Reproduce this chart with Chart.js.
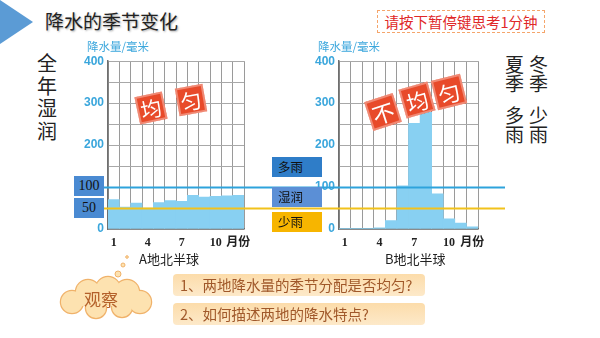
<!DOCTYPE html>
<html lang="zh-CN">
<head>
<meta charset="UTF-8">
<title>降水的季节变化</title>
<script src="https://cdn.jsdelivr.net/npm/chart.js"></script>
<style>
  body {
    margin: 0;
    width: 600px;
    height: 338px;
    background: #fff;
    position: relative;
    overflow: hidden;
    font-family: 'Noto Sans CJK SC', sans-serif;
  }
  .abs { position: absolute; }
  canvas { position: absolute; }
  .tri {
    left: 0; top: 0; width: 0; height: 0;
    border-left: 33px solid #5b9bd5;
    border-top: 22px solid transparent;
    border-bottom: 22px solid transparent;
  }
  .title {
    left: 45px; top: 7px;
    font-size: 19px; color: #222;
    text-shadow: 1px 1px 2px rgba(0,0,0,.35);
  }
  .pause {
    left: 377px; top: 10px; width: 166px; height: 21px;
    border: 1px dashed #f5a56b;
    color: #e02828; font-size: 14.5px; line-height: 21px; text-align: center;
  }
  .unit { font-size: 11.5px; color: #3aa6dc; }
  .big { font-size: 20px; color: #222; line-height: 22.5px; }
  .side { font-size: 19px; color: #222; line-height: 19px; }
  .box {
    width: 50px; height: 20px; line-height: 20px;
    font-size: 12.5px; color: #111; padding-left: 6px; box-sizing: border-box;
  }
  .val {
    left: 74px; width: 30px; height: 20px; line-height: 20px;
    background: #4a8ad2; color: #111; text-align: center;
    font-family: 'Liberation Serif', serif; font-size: 14px;
  }
  .stamp {
    background: #e84a2a; color: #fff; text-align: center;
    box-shadow: inset 0 0 0 2px rgba(255,255,255,.35);
  }
  .place { font-size: 13px; color: #222; }
  .q {
    left: 173px; width: 252px; height: 22px; line-height: 22px;
    border-radius: 4px; padding-left: 7px; box-sizing: border-box;
    background: linear-gradient(to bottom, #fcdcaa, #fde9c9);
    color: #a0582a; font-size: 14.5px;
  }
</style>
</head>
<body>

<div class="abs tri"></div>
<div class="abs title">降水的季节变化</div>
<div class="abs pause">请按下暂停键思考1分钟</div>

<canvas id="chartA" width="226" height="200" style="left:74px; top:50px;"></canvas>
<canvas id="chartB" width="205" height="200" style="left:300px; top:50px;"></canvas>

<div class="abs unit" style="left:87px; top:38px;">降水量/毫米</div>
<div class="abs unit" style="left:318px; top:38px;">降水量/毫米</div>

<div class="abs big" style="left:37px; top:52px;">全<br>年<br>湿<br>润</div>
<div class="abs side" style="left:505px; top:54px;">夏<br>季</div>
<div class="abs side" style="left:505px; top:105px;">多<br>雨</div>
<div class="abs side" style="left:529px; top:54px;">冬<br>季</div>
<div class="abs side" style="left:529px; top:105px;">少<br>雨</div>

<div class="abs val" style="top:176px;">100</div>
<div class="abs val" style="top:198px;">50</div>

<div class="abs box" style="left:272px; top:157px; background:#2f7dc8;">多雨</div>
<div class="abs box" style="left:272px; top:187px; background:#5b8fd6;">湿润</div>
<div class="abs box" style="left:272px; top:212px; background:#f7b500;">少雨</div>

<div class="abs stamp" style="left:137px; top:94px; width:28px; height:28px; line-height:28px; font-size:21px; transform:rotate(-12deg);">均</div>
<div class="abs stamp" style="left:177px; top:86px; width:28px; height:28px; line-height:28px; font-size:21px; transform:rotate(-10deg);">匀</div>
<div class="abs stamp" style="left:368px; top:97px; width:30px; height:30px; line-height:30px; font-size:22px; transform:rotate(-18deg);">不</div>
<div class="abs stamp" style="left:402px; top:85px; width:30px; height:30px; line-height:30px; font-size:22px; transform:rotate(-16deg);">均</div>
<div class="abs stamp" style="left:434px; top:77px; width:30px; height:30px; line-height:30px; font-size:22px; transform:rotate(-14deg);">匀</div>

<div class="abs place" style="left:139px; top:249px;">A地北半球</div>
<div class="abs place" style="left:385px; top:249px;">B地北半球</div>

<svg class="abs" style="left:0; top:0;" width="600" height="338">
  <g stroke="#f0b26a" stroke-width="2.5" fill="#fde2b0">
    <circle cx="72" cy="302" r="11"/>
    <circle cx="88" cy="292" r="12"/>
    <circle cx="108" cy="289" r="12"/>
    <circle cx="127" cy="292" r="12"/>
    <circle cx="140" cy="302" r="11"/>
    <circle cx="122" cy="307" r="10"/>
    <circle cx="96" cy="308" r="10"/>
  </g>
  <g fill="#fde2b0">
    <circle cx="72" cy="302" r="11"/>
    <circle cx="88" cy="292" r="12"/>
    <circle cx="108" cy="289" r="12"/>
    <circle cx="127" cy="292" r="12"/>
    <circle cx="140" cy="302" r="11"/>
    <circle cx="122" cy="307" r="10"/>
    <circle cx="96" cy="308" r="10"/>
    <rect x="74" y="292" width="66" height="14"/>
  </g>
  <g stroke="#f0b26a" stroke-width="1" fill="#fde2b0">
    <circle cx="118" cy="274" r="3"/>
    <circle cx="123" cy="265" r="2"/>
    <circle cx="127" cy="257" r="1.3"/>
  </g>
  <text x="101" y="306" text-anchor="middle" font-size="17" fill="#b4602a"
        font-family="Noto Sans CJK SC">观察</text>
</svg>

<div class="abs q" style="top:274px;">1、两地降水量的季节分配是否均匀?</div>
<div class="abs q" style="top:303px;">2、如何描述两地的降水特点?</div>

<script>
  const months = ['1', '2', '3', '4', '5', '6', '7', '8', '9', '10', '11', '12'];
  const monthTicks = ['1', '', '', '4', '', '', '7', '', '', '10', '', '月份'];
  const rainA = [70, 52, 62, 50, 63, 68, 66, 80, 76, 78, 79, 80];
  const rainB = [1, 1, 1, 3, 20, 103, 252, 278, 84, 24, 14, 5];
  const wetLine = 100;
  const dryLine = 50;

  // 100 和 50 两条参考线，横穿整个画布
  const refLines = {
    id: 'refLines',
    afterDraw(chart) {
      const y = chart.scales.y;
      const ctx = chart.ctx;
      ctx.save();
      [[wetLine, '#2ea3dc'], [dryLine, '#f2c21b']].forEach(([v, c]) => {
        const py = Math.round(y.getPixelForValue(v)) + 0.5;
        ctx.strokeStyle = c;
        ctx.lineWidth = 2;
        ctx.beginPath();
        ctx.moveTo(0, py);
        ctx.lineTo(chart.width, py);
        ctx.stroke();
      });
      ctx.restore();
    }
  };

  function makeChart(id, data, axisWidth, padRight) {
    const ctx = document.getElementById(id).getContext('2d');
    return new Chart(ctx, {
      type: 'bar',
      data: {
        labels: months,
        datasets: [{
          data: data,
          backgroundColor: '#88d0f2',
          borderWidth: 0,
          barPercentage: 1,
          categoryPercentage: 1
        }]
      },
      options: {
        responsive: false,
        animation: false,
        layout: { padding: { top: 10, right: padRight, left: 0, bottom: 0 } },
        plugins: { legend: { display: false }, tooltip: { enabled: false } },
        scales: {
          x: {
            z: 1,
            grid: { color: '#9a9a9a', drawTicks: false, offset: true },
            border: { color: '#6f6f6f', width: 1.5 },
            ticks: {
              autoSkip: false,
              maxRotation: 0,
              padding: 7,
              color: '#222',
              font: { family: "'Liberation Serif', 'Noto Sans CJK SC'", size: 12, weight: 'bold' },
              callback: (v, i) => monthTicks[i]
            },
            afterFit: s => { s.height = 21; }
          },
          y: {
            min: 0,
            max: 400,
            ticks: {
              stepSize: 50,
              padding: 4,
              color: '#3aa6dc',
              font: { family: 'Liberation Sans', size: 12, weight: 'bold' },
              callback: v => (v % 100 === 0 ? v : '')
            },
            grid: { color: '#a8a8a8', drawTicks: false },
            border: { color: '#6f6f6f', width: 1.5 },
            afterFit: s => { s.width = axisWidth; }
          }
        }
      },
      plugins: [refLines]
    });
  }

  makeChart('chartA', rainA, 34, 56);
  makeChart('chartB', rainB, 39, 27);
</script>

</body>
</html>
